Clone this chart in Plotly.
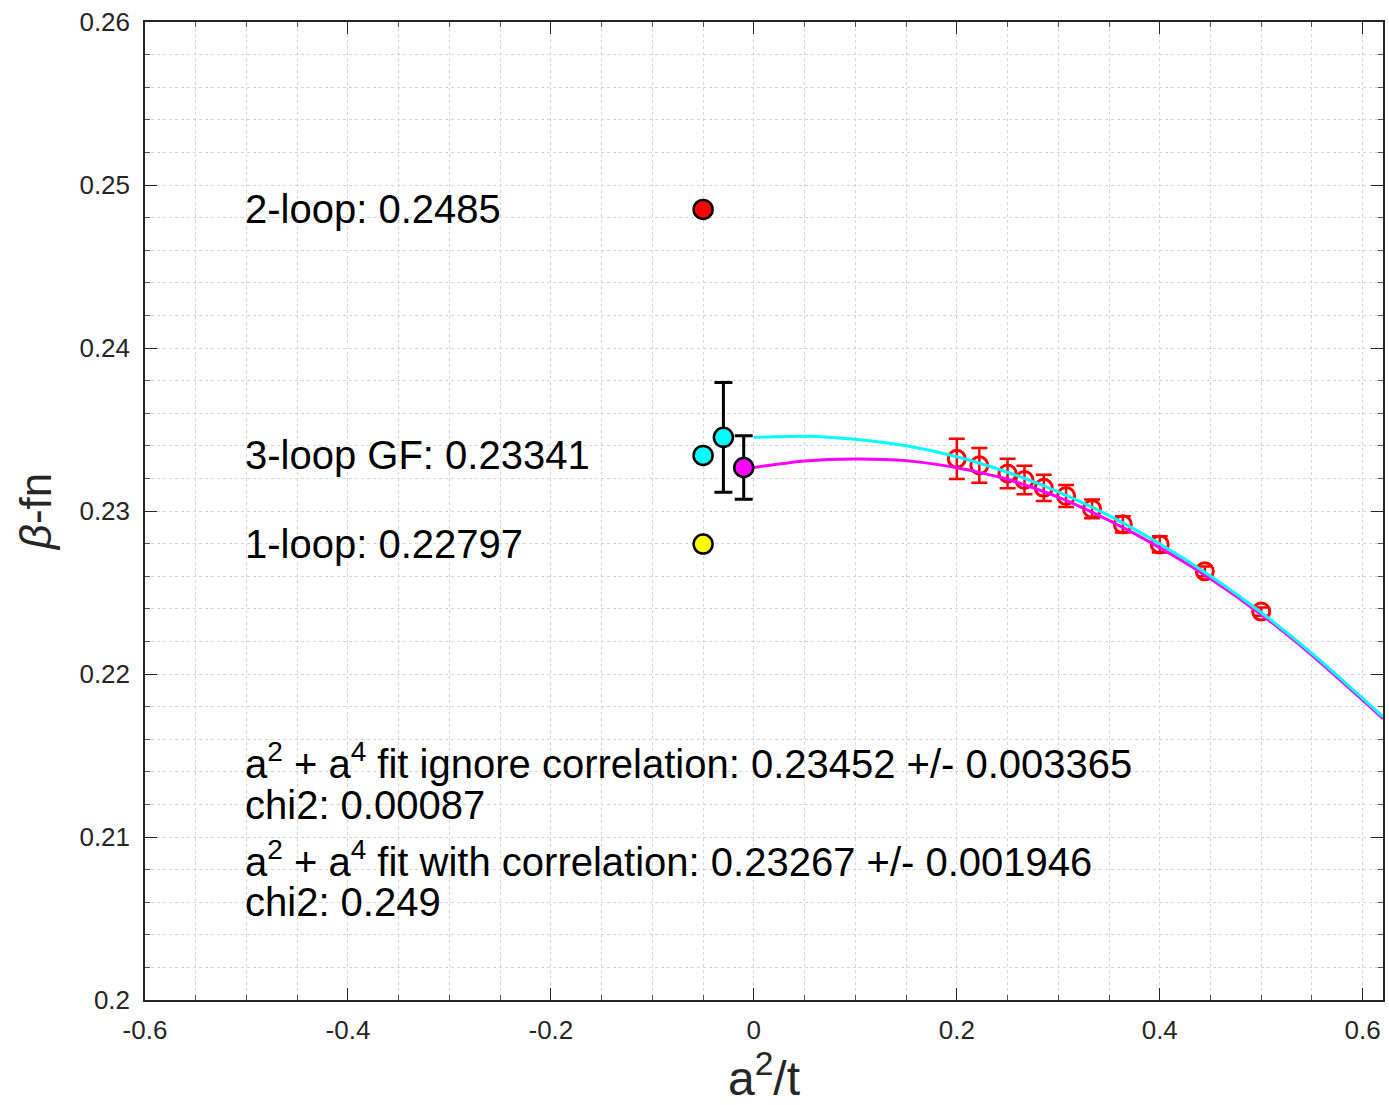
import plotly.graph_objects as go

# ---- data ----
data_x = [0.2, 0.2222, 0.25, 0.2667, 0.2857, 0.3077, 0.3333, 0.3636, 0.4, 0.4444, 0.5]
data_y = [0.2332, 0.2328, 0.2323, 0.2319, 0.23142, 0.23092, 0.23013, 0.22918, 0.22795, 0.2263, 0.22383]
data_err = [0.00123, 0.00106, 0.0009, 0.00087, 0.0008, 0.00068, 0.00058, 0.0005, 0.0005, 0.0003, 0.00025]

fit_x = [0.0, 0.05, 0.1, 0.15, 0.2, 0.25, 0.3, 0.35, 0.4, 0.45, 0.5, 0.55, 0.6, 0.62]
fit_cyan_y = [0.23452, 0.23459, 0.23440, 0.23400, 0.23333, 0.23238, 0.23118, 0.22972, 0.22799,
              0.22601, 0.22377, 0.22127, 0.21851, 0.21737]
fit_mag_y = [0.23267, 0.23307, 0.23319, 0.23309, 0.23265, 0.23195, 0.23085, 0.22942, 0.22775,
             0.22585, 0.22365, 0.22115, 0.21840, 0.21726]

loop_x = [-0.05, -0.05, -0.05]
loop_y = [0.2485, 0.23341, 0.22797]
loop_colors = ["#ff0000", "#00ffff", "#ffff00"]
loop_labels = ["2-loop: 0.2485", "3-loop GF: 0.23341", "1-loop: 0.22797"]

extrap_x = [-0.03, -0.01]
extrap_y = [0.23452, 0.23267]
extrap_err = [0.003365, 0.001946]
extrap_colors = ["#00ffff", "#ff00ff"]

fit_text = [
    "a<sup>2</sup> + a<sup>4</sup> fit ignore correlation: 0.23452 +/- 0.003365",
    "chi2: 0.00087",
    "a<sup>2</sup> + a<sup>4</sup> fit with correlation: 0.23267 +/- 0.001946",
    "chi2: 0.249",
]
fit_text_y = [0.21465, 0.21195, 0.20865, 0.20600]
text_x = -0.503

x_tickvals = [-0.6, -0.4, -0.2, 0, 0.2, 0.4, 0.6]
x_ticktext = ["-0.6", "-0.4", "-0.2", "0", "0.2", "0.4", "0.6"]
y_tickvals = [0.2, 0.21, 0.22, 0.23, 0.24, 0.25, 0.26]
y_ticktext = ["0.2", "0.21", "0.22", "0.23", "0.24", "0.25", "0.26"]

FONT = "Liberation Sans, Arial, Helvetica, sans-serif"

fig = go.Figure()

# lattice data
fig.add_trace(go.Scatter(
    x=data_x, y=data_y, mode="markers",
    marker=dict(symbol="circle-open", size=17, color="#ff0000", line=dict(width=3, color="#ff0000")),
    error_y=dict(type="data", array=data_err, visible=True, color="#ff0000", thickness=2.5, width=8),
    showlegend=False, cliponaxis=False,
))

# fit curves
fig.add_trace(go.Scatter(x=fit_x, y=fit_mag_y, mode="lines",
                         line=dict(color="#ff00ff", width=3, shape="spline", smoothing=0.6),
                         showlegend=False))
fig.add_trace(go.Scatter(x=fit_x, y=fit_cyan_y, mode="lines",
                         line=dict(color="#00ffff", width=3, shape="spline", smoothing=0.6),
                         showlegend=False))

# extrapolated values with errors
fig.add_trace(go.Scatter(
    x=extrap_x, y=extrap_y, mode="markers",
    marker=dict(symbol="circle", size=19, color=extrap_colors, line=dict(width=2.5, color="black")),
    error_y=dict(type="data", array=extrap_err, visible=True, color="black", thickness=3, width=9),
    showlegend=False,
))

# perturbative values
fig.add_trace(go.Scatter(
    x=loop_x, y=loop_y, mode="markers",
    marker=dict(symbol="circle", size=19, color=loop_colors, line=dict(width=2.5, color="black")),
    showlegend=False,
))

annotations = []
for lbl, yv in zip(loop_labels, loop_y):
    annotations.append(dict(x=text_x, y=yv, xref="x", yref="y", text=lbl, showarrow=False,
                            xanchor="left", yanchor="middle", font=dict(family=FONT, size=40, color="black")))
for t, yv in zip(fit_text, fit_text_y):
    annotations.append(dict(x=text_x, y=yv, xref="x", yref="y", text=t, showarrow=False,
                            xanchor="left", yanchor="middle", font=dict(family=FONT, size=40, color="black")))

grid_color = "#d6d6d6"
fig.update_layout(
    width=1389, height=1105,
    margin=dict(l=145, r=4, t=22, b=105),
    plot_bgcolor="white", paper_bgcolor="white",
    font=dict(family=FONT, color="#262626"),
    annotations=annotations,
    xaxis=dict(
        range=[-0.6, 0.62], tickmode="array", tickvals=x_tickvals, ticktext=x_ticktext,
        tickfont=dict(size=26, color="#262626"), ticklabelstandoff=6,
        ticks="inside", ticklen=12, tickwidth=1.2, tickcolor="#262626",
        showline=True, linecolor="#262626", linewidth=1.5, mirror="ticks",
        showgrid=True, gridcolor=grid_color, griddash="dot", gridwidth=1,
        minor=dict(dtick=0.05, ticks="inside", ticklen=5, tickcolor="#555555",
                   showgrid=True, gridcolor=grid_color, griddash="dot", gridwidth=1),
        zeroline=False,
        title=dict(text="a<sup>2</sup>/t", font=dict(family=FONT, size=48, color="#262626"), standoff=18),
    ),
    yaxis=dict(
        range=[0.2, 0.26], tickmode="array", tickvals=y_tickvals, ticktext=y_ticktext,
        tickfont=dict(size=26, color="#262626"), ticklabelstandoff=8,
        ticks="inside", ticklen=12, tickwidth=1.2, tickcolor="#262626",
        showline=True, linecolor="#262626", linewidth=1.5, mirror="ticks",
        showgrid=True, gridcolor=grid_color, griddash="dot", gridwidth=1,
        minor=dict(dtick=0.002, ticks="inside", ticklen=5, tickcolor="#555555",
                   showgrid=True, gridcolor=grid_color, griddash="dot", gridwidth=1),
        zeroline=False,
        title=dict(text="<i>β</i>-fn", font=dict(family=FONT, size=44, color="#262626"), standoff=14),
    ),
)

fig.write_html("out.html")
